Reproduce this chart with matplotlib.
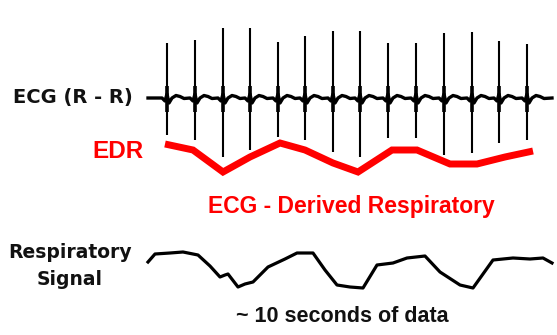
import numpy as np
import matplotlib.pyplot as plt

# ECG beats: x position, spike top, spike bottom (pixel coords, y down)
beat_x = [167, 195, 223, 250, 278, 305, 333, 360, 388, 416, 444, 472, 499, 527]
beat_top = [43, 40, 28, 28, 42, 36, 31, 31, 43, 43, 33, 32, 41, 44]
beat_bottom = [135, 140, 157, 150, 137, 140, 152, 157, 138, 138, 155, 153, 143, 140]
ecg_start, ecg_end, ecg_base = 148, 552, 98

# EDR polyline
edr_x = [165, 193, 223, 250, 280, 305, 333, 358, 392, 417, 450, 477, 505, 533]
edr_y = [144, 150, 172, 157, 143, 150, 163, 172, 150, 150, 164, 164, 157, 151]

# respiratory signal
resp_x = [148, 155, 170, 183, 198, 210, 220, 225, 228, 238, 245, 253, 268, 285,
          297, 313, 325, 337, 350, 363, 377, 393, 407, 425, 440, 460, 473, 493,
          513, 530, 543, 552]
resp_y = [262, 254, 253, 252, 255, 266, 277, 275, 274, 287, 284, 282, 267, 259,
          253, 253, 270, 285, 287, 288, 265, 263, 258, 256, 272, 285, 288, 260,
          258, 259, 258, 263]

fig = plt.figure(figsize=(5.57, 3.35), dpi=100)
ax = fig.add_axes([0, 0, 1, 1])
ax.set_xlim(0, 557)
ax.set_ylim(335, 0)
ax.axis('off')

# ECG baseline: small QRS notch plus a T-wave hump after each beat
xs = [ecg_start]
ys = [ecg_base]
for bx in beat_x:
    xs += [bx - 5, bx - 2, bx, bx + 2, bx + 5, bx + 9, bx + 13, bx + 17]
    ys += [ecg_base, ecg_base + 3, ecg_base - 4, ecg_base + 5, ecg_base,
           ecg_base - 2.5, ecg_base - 1.5, ecg_base + 0.5]
xs.append(ecg_end)
ys.append(ecg_base)
ax.plot(xs, ys, color='black', lw=2.4)
ax.vlines(beat_x, beat_top, beat_bottom, color='black', lw=1.5)
ax.vlines(beat_x, [ecg_base - 12] * len(beat_x), [ecg_base + 14] * len(beat_x),
          color='black', lw=2.6)

ax.plot(edr_x, edr_y, color='#ff0000', lw=5, solid_joinstyle='miter',
        solid_capstyle='butt')
ax.plot(resp_x, resp_y, color='black', lw=2.3)

dv = ['DejaVu Sans']
lib = ['Liberation Sans', 'DejaVu Sans']
ax.text(13, 98, 'ECG (R - R)', fontsize=14, fontweight='bold', family=dv,
        va='center', ha='left', color='#111111')
ax.text(92, 151, 'EDR', fontsize=17.5, fontweight='bold', family=lib,
        va='center', ha='left', color='#ff0000')
ax.text(351, 206, 'ECG - Derived Respiratory', fontsize=16.5, fontweight='bold',
        family=lib, va='center', ha='center', color='#ff0000')
ax.text(70, 266, 'Respiratory\nSignal', fontsize=13.5, fontweight='bold',
        family=dv, va='center', ha='center', color='#111111', linespacing=1.55)
ax.text(342, 316, '~ 10 seconds of data', fontsize=15.5, fontweight='bold',
        family=lib, va='center', ha='center', color='#111111')

fig.savefig('out.png', dpi=100)
